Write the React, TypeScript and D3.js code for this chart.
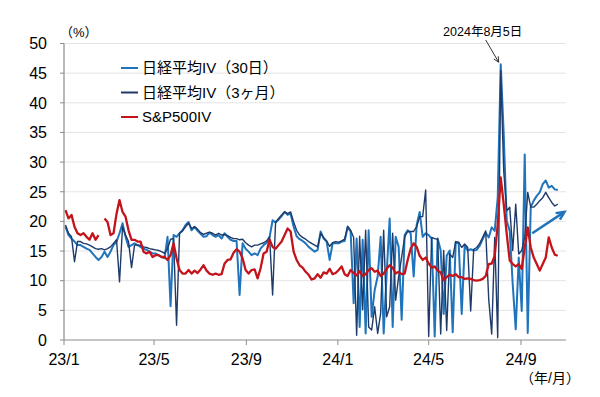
import React from "react";
import * as d3 from "d3";

// Dimensions
const width = 600;
const height = 397;
const margin = { top: 43.5, right: 34, bottom: 57, left: 64 };
const innerW = width - margin.left - margin.right;
const innerH = height - margin.top - margin.bottom;

// Colours
const blue = "#1f74bb";
const navy = "#1f3a68";
const red = "#c4141b";
const axisGrey = "#8c8c8c";
const gridGrey = "#e4e4e4";

const latin = "'Liberation Sans', Arial, 'Noto Sans CJK JP', sans-serif";

// Data: one value every 4 days from 2023-01-03
const startDate = new Date(2023, 0, 3);
const stepDays = 4;

const nikkei30 = [
  19.1, 17.7, 17.1, 16.6, 16.0, 16.0, 15.7, 15.4, 15.2, 14.6,
  14.0, 13.5, 14.0, 14.9, 14.0, 14.9, 16.0, 16.6, 18.0, 19.7,
  17.4, 15.7, 16.0, 16.3, 16.0, 15.7, 15.4, 15.2, 14.9, 14.6,
  14.6, 14.3, 14.0, 13.8, 17.4, 5.7, 17.7, 17.4, 18.0, 18.5,
  19.4, 19.9, 18.5, 19.1, 18.4, 17.9, 17.4, 17.5, 18.1, 17.7,
  17.4, 17.7, 17.1, 18.0, 17.4, 16.9, 16.7, 16.7, 7.6, 16.3,
  15.4, 14.9, 14.3, 14.6, 14.3, 15.4, 16.0, 16.4, 17.4, 20.2,
  19.8, 20.3, 20.9, 21.6, 21.1, 21.3, 19.1, 17.5, 17.0, 16.7,
  16.3, 15.7, 15.3, 14.9, 15.2, 18.3, 17.1, 16.6, 13.5, 16.3,
  16.3, 16.3, 16.6, 16.7, 19.0, 18.3, 6.2, 17.1, 2.2, 16.9,
  1.1, 18.5, 3.9, 8.4, 10.7, 17.4, 1.1, 11.2, 20.5, 2.2,
  17.4, 15.7, 3.4, 17.7, 18.5, 18.0, 10.7, 19.4, 21.6, 17.4,
  18.0, 17.7, 17.1, 0.6, 17.1, 15.1, 4.4, 14.2, 15.1, 1.3,
  16.5, 16.3, 4.4, 15.9, 15.1, 15.3, 15.1, 15.2, 15.9, 17.0,
  18.1, 17.3, 19.0, 18.4, 24.0, 46.5, 34.7, 20.1, 18.4, 9.4,
  1.8, 13.9, 4.9, 31.3, 1.2, 22.4, 23.5, 24.3, 24.9, 26.3,
  26.9, 25.7, 26.0, 25.4, 25.3,
];

const nikkei3m = [
  19.4, 18.0, 17.4, 13.2, 16.6, 16.6, 16.3, 16.2, 16.0, 15.7,
  15.4, 15.3, 15.4, 15.2, 15.4, 15.7, 16.3, 16.9, 9.8, 19.1,
  17.7, 16.6, 12.2, 16.0, 16.0, 16.0, 15.7, 15.6, 15.4, 15.3,
  15.2, 15.1, 14.9, 14.6, 15.4, 17.0, 17.1, 2.5, 18.0, 18.4,
  19.1, 19.7, 18.8, 19.1, 18.7, 18.1, 17.8, 18.0, 18.2, 18.0,
  17.7, 18.0, 17.7, 17.8, 17.6, 17.3, 17.1, 17.1, 16.9, 17.0,
  16.4, 16.0, 15.7, 16.0, 16.0, 16.2, 16.4, 16.7, 17.4, 7.6,
  19.9, 20.5, 21.1, 21.6, 21.3, 21.6, 19.9, 18.5, 17.7, 17.3,
  17.0, 16.6, 16.3, 16.0, 15.7, 18.0, 17.3, 16.7, 15.8, 16.4,
  16.6, 16.5, 16.7, 17.0, 19.2, 18.5, 17.3, 0.8, 17.5, 5.1,
  18.5, 2.2, 1.7, 5.6, 1.1, 4.5, 18.5, 3.9, 5.6, 18.0,
  6.7, 10.7, 14.0, 17.4, 18.3, 18.3, 18.3, 19.1, 20.8, 20.8,
  25.3, 0.6, 17.3, 17.1, 17.0, 1.0, 15.1, 1.6, 14.5, 13.9,
  16.6, 16.5, 15.6, 16.2, 15.6, 4.9, 15.3, 15.6, 16.3, 17.3,
  18.4, 6.9, 1.0, 17.3, 0.4, 45.4, 28.5, 21.8, 22.4, 15.1,
  22.9, 14.5, 15.1, 17.3, 24.9, 22.4, 22.4, 22.9, 23.5, 24.0,
  24.9, 24.0, 23.2, 22.6, 22.9,
];

const sp500 = [
  21.9, 20.5, 21.1, 19.1, 18.0, 17.7, 18.0, 17.4, 16.9, 18.0,
  16.9, 17.7, null, 20.5, 19.9, 17.7, 18.0, 21.3, 23.6, 21.6,
  20.8, 18.5, 16.9, 16.9, 16.6, 16.6, 14.9, 14.6, 14.9, 14.0,
  14.3, 14.3, 14.0, 14.0, 13.5, 14.3, 16.3, 13.8, 11.8, 11.2,
  11.2, 11.8, 11.2, 11.7, 11.3, 11.9, 12.6, 11.7, 11.2, 11.0,
  11.2, 11.0, 11.1, 12.9, 13.5, 13.6, 14.7, 15.3, 14.9, 13.8,
  11.8, 11.2, 11.8, 11.9, 10.4, 12.1, 14.6, 14.9, 16.9, 15.7,
  15.4, 16.0, 16.6, 17.7, 18.8, 18.3, 14.9, 13.5, 12.6, 12.2,
  11.5, 11.0, 10.2, 10.4, 11.1, 10.5, 11.4, 11.2, 12.0, 11.1,
  11.3, 11.8, 12.4, 11.1, 10.8, 11.8, 11.3, 10.9, 11.6, 10.8,
  11.1, 11.8, 12.1, 11.5, 11.7, 10.8, 11.2, 12.0, 12.6, 12.2,
  11.2, 11.5, 11.1, 11.2, 13.5, 15.4, 16.3, 15.7, 14.2, 13.5,
  13.9, 12.9, 12.2, 12.4, 11.7, 11.4, 10.1, 10.6, 11.0, 10.8,
  11.1, 10.6, 10.6, 10.3, 10.4, 10.3, 10.1, 10.0, 10.1, 10.3,
  10.8, 12.8, 12.9, 14.2, 19.5, 27.4, 22.9, 17.9, 13.4, 12.8,
  12.4, 12.8, 12.0, 15.6, 19.0, 15.6, 13.9, 12.8, 11.7, 12.8,
  13.9, 17.3, 15.6, 14.4, 14.2,
];

const seriesNames = ["日経平均IV（30日）", "日経平均IV（3ヶ月）", "S&P500IV"];

const yTicks = [0, 5, 10, 15, 20, 25, 30, 35, 40, 45, 50];
const xTickDates = [
  new Date(2023, 0, 1),
  new Date(2023, 4, 1),
  new Date(2023, 8, 1),
  new Date(2024, 0, 1),
  new Date(2024, 4, 1),
  new Date(2024, 8, 1),
];
const xTickLabels = ["23/1", "23/5", "23/9", "24/1", "24/5", "24/9"];

const spikeDate = new Date(2024, 7, 5);
const spikeLabel = "2024年8月5日";

const toPoints = (values: (number | null)[]) =>
  values.map((v, i) => ({ date: d3.timeDay.offset(startDate, i * stepDays), v }));

const App = () => {
  const x = d3
    .scaleTime()
    .domain([new Date(2023, 0, 1), new Date(2024, 9, 31)])
    .range([margin.left, margin.left + innerW]);
  const y = d3
    .scaleLinear()
    .domain([0, 50])
    .range([margin.top + innerH, margin.top]);

  const line = d3
    .line<{ date: Date; v: number | null }>()
    .defined((d) => d.v != null)
    .x((d) => x(d.date))
    .y((d) => y(d.v as number));

  const series = [
    { name: seriesNames[0], values: nikkei30, colour: blue, w: 2 },
    { name: seriesNames[1], values: nikkei3m, colour: navy, w: 1.4 },
    { name: seriesNames[2], values: sp500, colour: red, w: 2.3 },
  ];

  const x0 = margin.left;
  const x1 = margin.left + innerW;
  const yBase = y(0);

  // annotation arrow geometry (from label to the peak)
  const peakX = x(spikeDate);
  const peakY = y(d3.max(nikkei30) as number);
  const arrowFrom = [peakX - 15, 40];
  const arrowTo = [peakX - 2, peakY - 2];
  const ang = Math.atan2(arrowTo[1] - arrowFrom[1], arrowTo[0] - arrowFrom[0]);
  const head = (len: number, a: number, p: number[]) =>
    `M${p[0] - len * Math.cos(a - 0.45)},${p[1] - len * Math.sin(a - 0.45)}L${p[0]},${p[1]}L${
      p[0] - len * Math.cos(a + 0.45)
    },${p[1] - len * Math.sin(a + 0.45)}`;

  // blue trend arrow near the end
  const trendFrom = [x(new Date(2024, 8, 16)), y(18)];
  const trendTo = [x(new Date(2024, 9, 29)), y(21.6)];
  const tAng = Math.atan2(trendTo[1] - trendFrom[1], trendTo[0] - trendFrom[0]);

  return (
    <svg
      width={width}
      height={height}
      style={{ position: "absolute", left: 0, top: 0, background: "#fff" }}
    >
      {/* gridlines */}
      {yTicks.slice(1).map((t) => (
        <line key={t} x1={x0} x2={x1} y1={y(t)} y2={y(t)} stroke={gridGrey} strokeWidth={1} />
      ))}

      {/* series */}
      {series.map((s) => (
        <path
          key={s.name}
          d={line(toPoints(s.values)) || ""}
          fill="none"
          stroke={s.colour}
          strokeWidth={s.w}
          strokeLinejoin="round"
        />
      ))}

      {/* axes */}
      <line x1={x0} x2={x0} y1={y(50)} y2={yBase} stroke={axisGrey} strokeWidth={1.2} />
      <line x1={x0} x2={x1} y1={yBase} y2={yBase} stroke={axisGrey} strokeWidth={1.2} />
      {yTicks.map((t) => (
        <g key={t}>
          <line x1={x0 - 4} x2={x0} y1={y(t)} y2={y(t)} stroke={axisGrey} />
          <text
            x={47}
            y={y(t)}
            dy="0.36em"
            textAnchor="end"
            fontFamily={latin}
            fontSize={16}
            fill="#000"
          >
            {t}
          </text>
        </g>
      ))}
      {xTickDates.map((d, i) => (
        <g key={xTickLabels[i]}>
          <line x1={x(d)} x2={x(d)} y1={yBase} y2={yBase + 5} stroke={axisGrey} />
          <text
            x={x(d)}
            y={yBase + 25}
            textAnchor="middle"
            fontFamily={latin}
            fontSize={16}
            fill="#000"
          >
            {xTickLabels[i]}
          </text>
        </g>
      ))}

      {/* unit labels */}
      <text x={60} y={37} fontFamily={latin} fontSize={13} fill="#000">
        （%）
      </text>
      <text x={x1 + 14} y={383} textAnchor="end" fontFamily={latin} fontSize={14} fill="#000">
        （年/月）
      </text>

      {/* legend */}
      {series.map((s, i) => (
        <g key={s.name} transform={`translate(121, ${68 + i * 24.5})`}>
          <line x1={0} x2={17} y1={0} y2={0} stroke={s.colour} strokeWidth={2} />
          <text x={21} y={0} dy="0.36em" fontFamily={latin} fontSize={15} fill="#000">
            {s.name}
          </text>
        </g>
      ))}

      {/* spike annotation */}
      <text
        x={peakX - 18}
        y={36}
        textAnchor="middle"
        fontFamily={latin}
        fontSize={12.5}
        fill="#000"
      >
        {spikeLabel}
      </text>
      <line
        x1={arrowFrom[0]}
        y1={arrowFrom[1]}
        x2={arrowTo[0]}
        y2={arrowTo[1]}
        stroke="#333"
        strokeWidth={1}
      />
      <path d={head(6, ang, arrowTo)} fill="none" stroke="#333" strokeWidth={1} />

      {/* trend arrow */}
      <line
        x1={trendFrom[0]}
        y1={trendFrom[1]}
        x2={trendTo[0]}
        y2={trendTo[1]}
        stroke={blue}
        strokeWidth={2.5}
      />
      <path d={head(9, tAng, trendTo)} fill="none" stroke={blue} strokeWidth={2.5} />
    </svg>
  );
};

export default App;
